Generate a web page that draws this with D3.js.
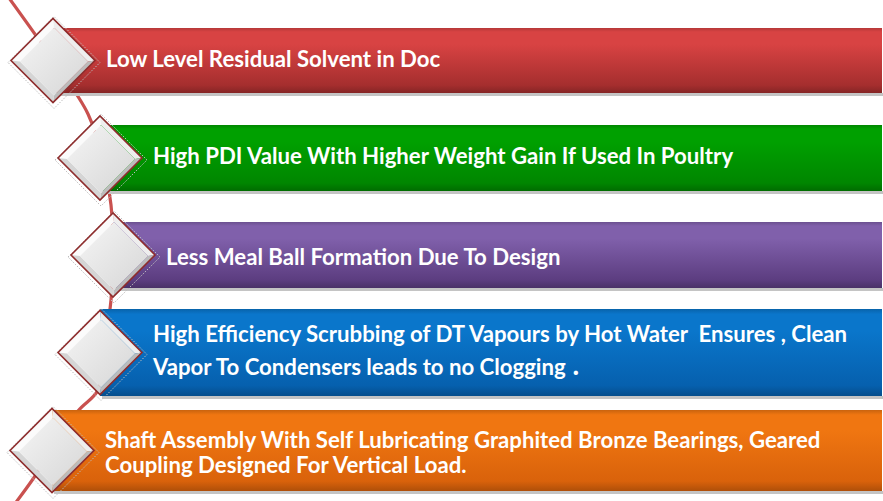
<!DOCTYPE html>
<html>
<head>
<meta charset="utf-8">
<script src="https://cdn.jsdelivr.net/npm/d3@7"></script>
<style>
  html, body { margin: 0; padding: 0; background: #ffffff; }
  svg { display: block; }
  .label { font-family: Lato, "Open Sans", sans-serif; font-weight: 700; fill: #ffffff; white-space: pre; }
</style>
</head>
<body>
<div id="chart"></div>
<script>
// contenido de cada franja
const labels = [
  ["Low Level Residual Solvent in Doc"],
  ["High PDI Value With Higher Weight Gain If Used In Poultry"],
  ["Less Meal Ball Formation Due To Design"],
  ["High Efficiency Scrubbing of DT Vapours by Hot Water  Ensures , Clean", "Vapor To Condensers leads to no Clogging"],
  ["Shaft Assembly With Self Lubricating Graphited Bronze Bearings, Geared", "Coupling Designed For Vertical Load."]
];
const lineEnds = ["", "", "", " .", ""];
const colorsTop = ["#d84343", "#00a000", "#8060ab", "#0a76cb", "#f07611"];
const colorsBottom = ["#a52e2e", "#008600", "#5c3d80", "#0660ae", "#d9620b"];

// disposición (px)
const width = 883, height = 501;
const barTop = [28, 125, 222, 309, 410];
const barBottom = [93, 191, 288, 396, 491];
const diamondX = [53, 100, 113, 100, 52];
const baselines = [[67], [164], [265], [342, 375], [448, 473]];
const diamondR = 42;

const svg = d3.select("#chart")
  .append("svg")
    .attr("width", width)
    .attr("height", height);

const defs = svg.append("defs");

// degradados de las franjas
labels.forEach((_, i) => {
  const g = defs.append("linearGradient")
      .attr("id", "bar" + i)
      .attr("x1", 0).attr("y1", 0).attr("x2", 0).attr("y2", 1);
  g.append("stop").attr("offset", "0%").attr("stop-color", d3.color(colorsTop[i]).darker(0.5));
  g.append("stop").attr("offset", "6%").attr("stop-color", colorsTop[i]);
  g.append("stop").attr("offset", "25%").attr("stop-color", colorsTop[i]);
  g.append("stop").attr("offset", "88%").attr("stop-color", colorsBottom[i]);
  g.append("stop").attr("offset", "100%").attr("stop-color", d3.color(colorsBottom[i]).darker(0.6));
});

const inner = defs.append("linearGradient")
    .attr("id", "diamondInner")
    .attr("x1", 0).attr("y1", 0).attr("x2", 1).attr("y2", 1);
inner.append("stop").attr("offset", "0%").attr("stop-color", "#f5f5f5");
inner.append("stop").attr("offset", "100%").attr("stop-color", "#d6d6d6");

// línea curva que une los rombos
const curvePts = [
  [9, -2], [53, 60], [88, 114], [103, 160], [111, 205], [113, 255],
  [111, 300], [104, 350], [98, 390], [78, 411], [52, 450], [33, 479], [14, 505]
];
svg.append("path")
    .attr("d", d3.line().curve(d3.curveCatmullRom)(curvePts))
    .attr("fill", "none")
    .attr("stroke", "#c9514f")
    .attr("stroke-width", 3.2);

// franjas
const rows = svg.selectAll("g.row")
  .data(labels)
  .join("g")
    .attr("class", "row");

rows.append("rect")
    .attr("x", (d, i) => diamondX[i] + 2)
    .attr("y", (d, i) => barBottom[i])
    .attr("width", (d, i) => width - diamondX[i])
    .attr("height", 3)
    .attr("fill", "#c4c4c4");

rows.append("rect")
    .attr("x", (d, i) => diamondX[i])
    .attr("y", (d, i) => barTop[i])
    .attr("width", (d, i) => width - diamondX[i] - 1)
    .attr("height", (d, i) => barBottom[i] - barTop[i])
    .attr("fill", (d, i) => `url(#bar${i})`);

// rombos biselados
const diamond = (cx, cy, r) => [[cx - r, cy], [cx, cy - r], [cx + r, cy], [cx, cy + r]];
const poly = pts => "M" + pts.map(p => p.join(",")).join("L") + "Z";

rows.each(function(d, i) {
  const g = d3.select(this);
  const cx = diamondX[i];
  const cy = (barTop[i] + barBottom[i]) / 2;
  const o = diamond(cx, cy, diamondR);
  const n = diamond(cx + 1, cy + 1, diamondR - 8);

  g.append("path")
      .attr("d", poly(diamond(cx + 1, cy + 2, diamondR + 4)))
      .attr("fill", "none")
      .attr("stroke", "#bdbdbd")
      .attr("stroke-width", 1)
      .attr("stroke-dasharray", "1.5,1.5");

  const faceColors = ["#fbfbfb", "#eeeeee", "#bcbcbc", "#d5d5d5"];
  for (let k = 0; k < 4; k++) {
    const a = o[k], b = o[(k + 1) % 4], c = n[(k + 1) % 4], e = n[k];
    g.append("path")
        .attr("d", poly([a, b, c, e]))
        .attr("fill", faceColors[k]);
  }
  g.append("path")
      .attr("d", poly(n))
      .attr("fill", "url(#diamondInner)");
  g.append("path")
      .attr("d", poly(o))
      .attr("fill", "none")
      .attr("stroke", "#8e2c2c")
      .attr("stroke-width", 1.6);
});

// textos
rows.each(function(d, i) {
  const g = d3.select(this);
  d.forEach((line, j) => {
    const t = g.append("text")
        .attr("class", "label")
        .attr("x", diamondX[i] + 53)
        .attr("y", baselines[i][j])
        .attr("font-size", 22.2)
        .text(line);
    if (j === d.length - 1 && lineEnds[i]) {
      t.append("tspan").attr("font-size", 28).text(lineEnds[i]);
    }
  });
});
</script>
</body>
</html>
